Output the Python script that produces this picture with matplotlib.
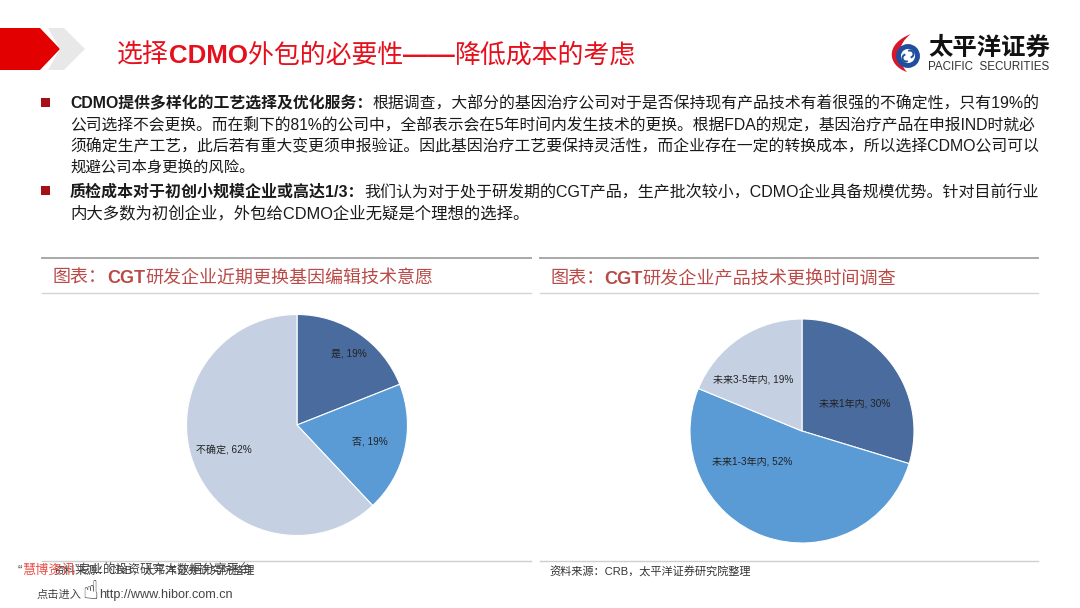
import os
import tempfile
from pathlib import Path

os.environ.setdefault("MPLCONFIGDIR", str(Path(tempfile.gettempdir()) / "mpl_cfg"))

import matplotlib

matplotlib.use("Agg")
import matplotlib.pyplot as plt
from matplotlib.patches import Arc, Circle, PathPatch, Polygon
from matplotlib.path import Path as MPath

W, H = 1080, 608
FONTS = ["Liberation Sans", "Noto Sans CJK SC", "DejaVu Sans"]
plt.rcParams["font.family"] = FONTS

# chart data
left_labels = ["是, 19%", "否, 19%", "不确定, 62%"]
left_values = [19, 19, 62]
right_labels = ["未来1年内, 30%", "未来1-3年内, 52%", "未来3-5年内, 19%"]
right_values = [30, 52, 19]
pie_colors = ["#4A6B9D", "#5B9BD5", "#C5D1E3"]

# page text
title_runs = [("选择", False), ("CDMO", True), ("外包的必要性", False), ("——", True), ("降低成本的考虑", False)]
body_lines = [
    (70, 1037, 103, [("CDMO提供多样化的工艺选择及优化服务：", True),
                     ("根据调查，大部分的基因治疗公司对于是否保持现有产品技术有着很强的不确定性，只有19%的", False)]),
    (70, 1037, 125, [("公司选择不会更换。而在剩下的81%的公司中，全部表示会在5年时间内发生技术的更换。根据FDA的规定，基因治疗产品在申报IND时就必", False)]),
    (70, 1037, 146, [("须确定生产工艺，此后若有重大变更须申报验证。因此基因治疗工艺要保持灵活性，而企业存在一定的转换成本，所以选择CDMO公司可以", False)]),
    (70, 254, 167, [("规避公司本身更换的风险。", False)]),
    (70, 1037, 192, [("质检成本对于初创小规模企业或高达1/3：", True),
                     ("我们认为对于处于研发期的CGT产品，生产批次较小，CDMO企业具备规模优势。针对目前行业", False)]),
    (70, 530, 213, [("内大多数为初创企业，外包给CDMO企业无疑是个理想的选择。", False)]),
]
left_title = [("图表：", False), ("CGT", True), ("研发企业近期更换基因编辑技术意愿", False)]
right_title = [("图表：", False), ("CGT", True), ("研发企业产品技术更换时间调查", False)]


def fit_runs(page, x0, x1, y, runs, size, color):
    """Draw text runs on one baseline, scaled so they span x0..x1 pixels."""
    renderer = page.figure.canvas.get_renderer()
    texts = []
    for text, bold in runs:
        texts.append(page.text(x0, y, text, fontsize=size, color=color, va="baseline", ha="left",
                               fontweight="bold" if bold else "normal"))
    total = sum(t.get_window_extent(renderer).width for t in texts)
    scale = (x1 - x0) / total
    x = x0
    for t in texts:
        t.set_fontsize(size * scale)
        t.set_x(x)
        x += t.get_window_extent(renderer).width


def draw_pie(fig, cx, cy, r, values, colors):
    ax = fig.add_axes([(cx - r) / W, 1 - (cy + r) / H, 2 * r / W, 2 * r / H])
    ax.pie(values, colors=colors, startangle=90, counterclock=False, radius=1,
           wedgeprops={"edgecolor": "white", "linewidth": 0.8, "clip_on": False})
    ax.set_xlim(-1, 1)
    ax.set_ylim(-1, 1)
    ax.set_zorder(1)


def draw_header(page):
    page.add_patch(Polygon([[0, 28], [40, 28], [60, 49], [40, 70], [0, 70]], color="#E30000", lw=0))
    page.add_patch(Polygon([[48, 28], [64, 28], [85, 49], [64, 70], [48, 70], [60, 49]], color="#E8E8E8", lw=0))
    fit_runs(page, 117, 637, 63, title_runs, 18, "#E5101C")

    # logo: red crescent, blue ring, small swirl inside
    verts = [(911, 34), (884, 44), (888, 66), (907, 72), (896, 60), (897, 44), (911, 34)]
    codes = [MPath.MOVETO, MPath.CURVE4, MPath.CURVE4, MPath.CURVE4, MPath.CURVE4, MPath.CURVE4, MPath.CURVE4]
    page.add_patch(PathPatch(MPath(verts, codes), facecolor="#D7182A", lw=0))
    page.add_patch(Circle((908, 56), 9.5, facecolor="white", edgecolor="#1F4E9E", lw=3.5))
    page.add_patch(Arc((906, 58), 7, 7, theta1=60, theta2=260, color="#1F4E9E", lw=1.4))
    page.add_patch(Arc((910, 54), 7, 7, theta1=240, theta2=80, color="#1F4E9E", lw=1.4))
    fit_runs(page, 928, 1050, 55, [("太平洋证券", True)], 17, "#111111")
    fit_runs(page, 928, 1049, 70, [("PACIFIC  SECURITIES", False)], 8, "#333333")


def main() -> None:
    fig = plt.figure(figsize=(W / 100, H / 100), dpi=100, facecolor="white")
    page = fig.add_axes([0, 0, 1, 1])
    page.set_xlim(0, W)
    page.set_ylim(H, 0)
    page.axis("off")
    page.set_zorder(2)
    page.patch.set_alpha(0)

    draw_header(page)

    for x0, x1, y, runs in body_lines:
        fit_runs(page, x0, x1, y + 5, runs, 10, "#1A1A1A")
    for y in (102, 190):
        page.add_patch(Polygon([[41, y - 4], [50, y - 4], [50, y + 5], [41, y + 5]], color="#A50F15", lw=0))

    # chart panels
    for x0, x1 in ((42, 531), (540, 1038)):
        page.plot([x0, x1], [258, 258], color="#A8A8A8", lw=1.4)
        page.plot([x0, x1], [293, 293], color="#D4D4D4", lw=1.0)
        page.plot([x0, x1], [561, 561], color="#CFCFCF", lw=1.0)
    fit_runs(page, 53, 432, 283, left_title, 12, "#B94A48")
    fit_runs(page, 550, 895, 284, right_title, 12, "#B94A48")

    draw_pie(fig, 297, 425, 110.5, left_values, pie_colors)
    draw_pie(fig, 802, 431, 112, right_values, pie_colors)

    left_pos = [(349, 353), (370, 441), (224, 450)]
    right_pos = [(855, 403), (752, 461), (753, 379)]
    for (x, y), label in zip(left_pos, left_labels):
        page.text(x, y, label, fontsize=7.2, color="#222222", ha="center", va="center")
    for (x, y), label in zip(right_pos, right_labels):
        page.text(x, y, label, fontsize=7.2, color="#222222", ha="center", va="center")

    # source notes and watermark overlapping the left one
    fit_runs(page, 549, 752, 576, [("资料来源：CRB，太平洋证券研究院整理", False)], 8, "#333333")
    fit_runs(page, 53, 254, 574, [("资料来源：CRB，太平洋证券研究院整理", False)], 8, "#333333")
    page.text(17, 574, "“", fontsize=9.5, color="#444444", va="baseline")
    fit_runs(page, 22, 75, 574, [("慧博资讯", False)], 9.5, "#E8504A")
    fit_runs(page, 75, 254, 574, [("”专业的投资研究大数据分享平台", False)], 9.5, "#444444")
    fit_runs(page, 37, 82, 598, [("点击进入", False)], 9.5, "#444444")
    page.text(90, 592, "☝", fontsize=19, color="#333333", ha="center", va="center", family="DejaVu Sans")
    fit_runs(page, 99, 233, 598, [("http://www.hibor.com.cn", False)], 9.5, "#444444")

    fig.savefig("out.png", dpi=100)
    plt.close(fig)


if __name__ == "__main__":
    main()
